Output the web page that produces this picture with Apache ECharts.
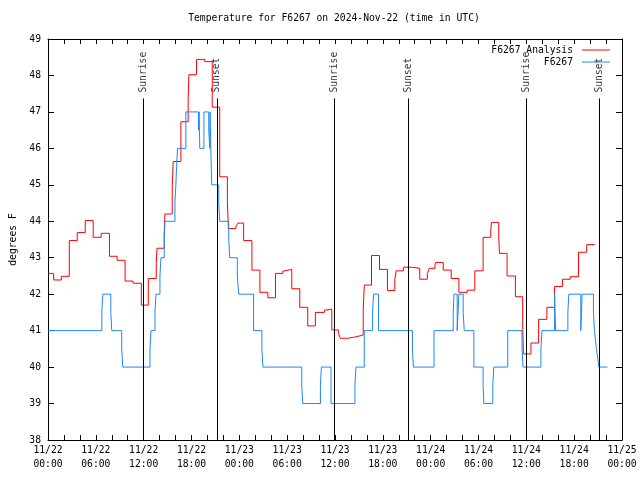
<!DOCTYPE html>
<html><head><meta charset="utf-8">
<script src="https://cdn.jsdelivr.net/npm/echarts@6/dist/echarts.min.js"></script>
<style>html,body{margin:0;padding:0;background:#fff}#c{width:640px;height:480px}</style>
</head><body><div id="c"></div>
<script>
// times are hours after 2024-11-22 00:00 UTC
const analysisTimes = [0,0.71,1.67,2.67,3.67,4.67,5.67,6.67,7.71,8.67,9.67,10.67,11.71,12.58,13.58,13.67,14.58,14.67,15.58,15.71,16.67,17.58,17.67,18.63,19.67,20.6,21.54,22.5,22.63,23.58,23.83,24.54,25.58,26.58,27.58,28.54,29.46,29.67,30.58,31.58,32.58,33.54,34.67,34.79,35.6,36.42,36.67,37.58,38.63,39.54,39.67,40.58,41.58,42.58,43.5,43.67,44.58,45.63,46.63,47.58,47.83,48.54,48.63,49.58,50.58,51.54,52.58,53.54,54.58,55.54,55.63,56.54,56.63,57.58,58.63,59.54,59.63,60.58,61.54,62.58,63.54,64.54,65.5,66.54,67.58,68.58];
const analysisValues = [42.57,42.39,42.49,43.47,43.69,44.02,43.56,43.67,43.04,42.93,42.36,42.30,41.70,42.43,42.84,43.26,43.70,44.20,44.94,45.64,46.73,47.36,48.02,48.44,48.38,47.13,45.22,44.52,43.80,43.87,43.95,43.47,42.66,42.05,41.90,42.57,42.63,42.68,42.15,41.64,41.13,41.50,41.56,41.59,41.02,40.93,40.79,40.83,40.88,41.57,42.25,43.06,42.68,42.10,42.39,42.64,42.74,42.71,42.41,42.57,42.71,42.80,42.87,42.66,42.43,42.05,42.11,42.64,43.56,43.76,43.97,43.56,43.12,42.50,41.93,41.16,40.36,40.66,41.31,41.64,42.21,42.41,42.48,43.15,43.36,43.36];
const obsTimes = [0,6.75,6.875,7.875,8.0,9.25,9.375,12.79,12.92,13.42,13.54,14.04,14.17,14.58,14.67,15.92,16.04,16.125,16.25,17.29,18.875,18.95,19.04,19.56,20.16,20.29,20.33,20.42,20.54,21.42,21.54,22.67,22.79,23.75,23.92,25.79,26.83,26.96,31.83,31.96,34.17,34.29,35.5,38.5,38.63,39.67,40.71,40.83,41.46,45.71,45.83,48.42,50.83,50.92,51.33,51.54,52.08,52.21,53.42,54.58,54.67,55.79,55.92,57.67,59.46,59.58,61.83,61.96,63.54,63.67,65.21,65.33,66.83,67.0,68.42,68.54,68.67,68.79,68.96,69.08,70.17];
const obsValues = [41,41.5,42,41.5,41,40.5,40,40.5,41,41.5,42,42.5,43,43.5,44,44.5,45,45.5,46,47,46.5,47,46,47,46.5,46,47,46,45,44.5,44,43.5,43,42.5,42,41,40.5,40,39.5,39,39.5,40,39,39.5,40,41,41.5,42,41,40.5,40,41,41.5,42,41,42,41.5,41,40,39.5,39,39.5,40,41,40.5,40,40.5,41,42,41,41.5,42,41,42,41.5,41,40.75,40.5,40.25,40,40];
const sunTimes = [12.0, 21.17, 35.92, 45.17, 59.96, 69.17];
const sunLabels = ['Sunrise','Sunset','Sunrise','Sunset','Sunrise','Sunset'];
const xTickLabels = ['11/22\n00:00','11/22\n06:00','11/22\n12:00','11/22\n18:00','11/23\n00:00','11/23\n06:00','11/23\n12:00','11/23\n18:00','11/24\n00:00','11/24\n06:00','11/24\n12:00','11/24\n18:00','11/25\n00:00'];
const yMin = 38, yMax = 49;

const FONT = 'DejaVu Sans Mono';
const FS = 9.7;
const zip = (a, b) => a.map((t, i) => [t, b[i]]);

const chart = echarts.init(document.getElementById('c'), null, {renderer: 'canvas'});
const xBase = {
  type: 'value', min: 0, max: 72, interval: 2,
  axisLine: {show: true, onZero: false, lineStyle: {color: '#000', width: 1}},
  axisTick: {show: true, inside: true, length: 5, lineStyle: {color: '#000'}},
  splitLine: {show: false}
};
const yBase = {
  type: 'value', min: yMin, max: yMax, interval: 1,
  axisLine: {show: true, onZero: false, lineStyle: {color: '#000', width: 1}},
  axisTick: {show: true, inside: true, length: 6, lineStyle: {color: '#000'}},
  splitLine: {show: false}
};
chart.setOption({
  animation: false,
  backgroundColor: '#fff',
  title: {
    text: 'Temperature for F6267 on 2024-Nov-22 (time in UTC)',
    left: 334, top: 13, textAlign: 'center', padding: 0,
    textStyle: {fontFamily: FONT, fontSize: FS, fontWeight: 'normal', color: '#000'}
  },
  legend: {
    data: [
      {name: 'F6267 Analysis', icon: 'rect', itemStyle: {color: '#ff0000'}},
      {name: 'F6267', icon: 'rect', itemStyle: {color: '#1e88f5'}}
    ],
    orient: 'vertical', align: 'right', right: 30, top: 44,
    itemWidth: 28, itemHeight: 1, itemGap: 0, padding: 0,
    textStyle: {fontFamily: FONT, fontSize: FS, color: '#000', lineHeight: 12, padding: [0, 4, 0, 0]}
  },
  grid: {left: 46, right: 18, top: 39, bottom: 40},
  xAxis: [
    Object.assign({}, xBase, {
      position: 'bottom',
      axisLabel: {
        show: true, margin: 3, color: '#000', fontFamily: FONT, fontSize: FS, lineHeight: 14,
        formatter: v => (Math.round(v) % 6 === 0 ? xTickLabels[Math.round(v) / 6] : '')
      }
    }),
    Object.assign({}, xBase, {position: 'top', axisLabel: {show: false}})
  ],
  yAxis: [
    Object.assign({}, yBase, {
      position: 'left',
      name: 'degrees F', nameLocation: 'middle', nameRotate: 90, nameGap: 30,
      nameTextStyle: {fontFamily: FONT, fontSize: FS, color: '#000'},
      axisLabel: {show: true, margin: 7, color: '#000', fontFamily: FONT, fontSize: FS}
    }),
    Object.assign({}, yBase, {position: 'right', axisLabel: {show: false}})
  ],
  series: [
    {
      name: 'sun', type: 'scatter', xAxisIndex: 0, yAxisIndex: 0,
      data: sunTimes.map(t => [t, 47.53]),
      symbolSize: 1, itemStyle: {color: 'transparent'}, silent: true,
      label: {
        show: true, position: ['50%', '50%'], rotate: 90, align: 'left', verticalAlign: 'middle',
        fontFamily: FONT, fontSize: FS, color: '#000',
        formatter: p => sunLabels[p.dataIndex]
      },
      markLine: {
        silent: true, symbol: ['none', 'none'], label: {show: false},
        lineStyle: {color: '#000', width: 1, type: 'solid'},
        data: sunTimes.map(t => [{coord: [t, yMin]}, {coord: [t, 47.37]}])
      }
    },
    {
      name: 'F6267 Analysis', type: 'line', step: 'end',
      data: zip(analysisTimes, analysisValues),
      symbol: 'none', showSymbol: false,
      lineStyle: {color: '#ff0000', width: 1}, itemStyle: {color: '#ff0000'}
    },
    {
      name: 'F6267', type: 'line', step: 'end',
      data: zip(obsTimes, obsValues),
      symbol: 'none', showSymbol: false,
      lineStyle: {color: '#1e88f5', width: 1}, itemStyle: {color: '#1e88f5'}
    }
  ]
});
</script></body></html>
